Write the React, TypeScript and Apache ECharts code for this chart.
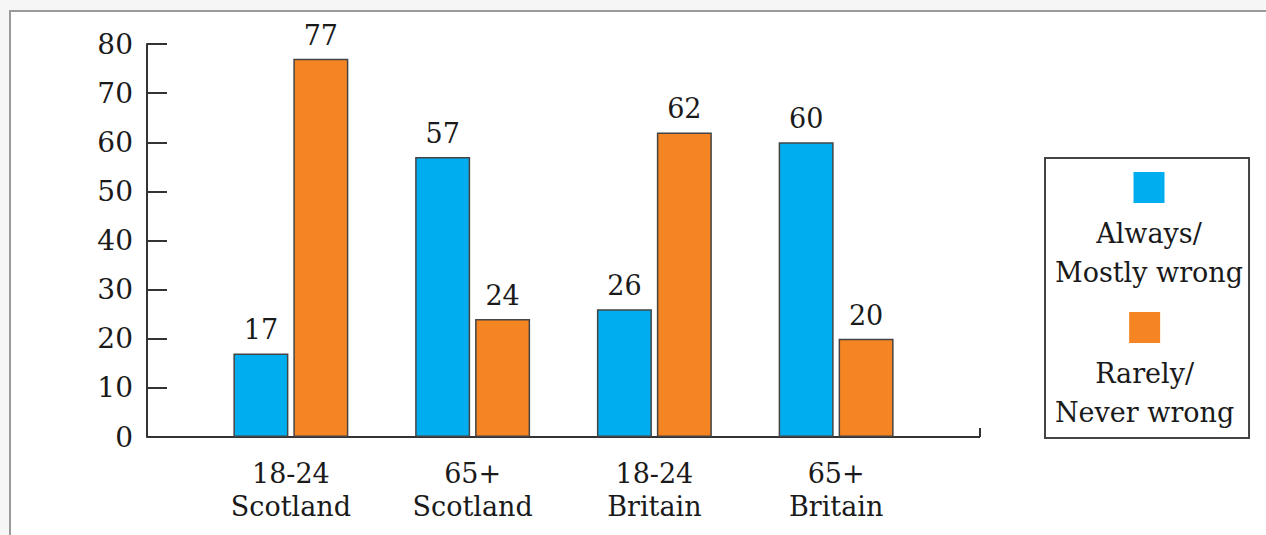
import React, { useEffect, useRef } from "react";
import * as echarts from "echarts";

const categories = ["18-24\nScotland", "65+\nScotland", "18-24\nBritain", "65+\nBritain"];
const seriesNames = ["Always/\nMostly wrong", "Rarely/\nNever wrong"];
const alwaysWrong = [17, 57, 26, 60];
const rarelyWrong = [77, 24, 62, 20];
const yTicks = [0, 10, 20, 30, 40, 50, 60, 70, 80];

const FONT = "DejaVu Serif";
const BLUE = "#00AEEF";
const ORANGE = "#F58522";
const INK = "#1a1a1a";
const AXIS = "#333333";

export default function App() {
  const ref = useRef<HTMLDivElement>(null);
  useEffect(() => {
    if (!ref.current) return;
    const chart = echarts.init(ref.current, null, { renderer: "svg" });
    const colors = [BLUE, ORANGE];
    const gridLeft = 200;
    const gridRight = 339;
    const gridTop = 44;
    const gridBottom = 98;
    const W = 1266;
    const H = 535;
    const axisY = H - gridBottom;
    const axisX0 = 147;
    const axisX1 = 980;
    chart.setOption({
      animation: false,
      backgroundColor: "#f6f6f6",
      textStyle: { fontFamily: FONT },
      graphic: [
        { type: "rect", z: -1, shape: { x: 10, y: 11, width: W, height: H }, style: { fill: "#ffffff" } },
        { type: "line", shape: { x1: 9, y1: 11, x2: W, y2: 11 }, style: { stroke: "#9a9a9a", lineWidth: 2 } },
        { type: "line", shape: { x1: 10, y1: 10, x2: 10, y2: H }, style: { stroke: "#9a9a9a", lineWidth: 2 } },
        { type: "line", shape: { x1: axisX0, y1: axisY, x2: axisX1, y2: axisY }, style: { stroke: AXIS, lineWidth: 2 } },
        { type: "line", shape: { x1: axisX1, y1: axisY, x2: axisX1, y2: axisY - 9 }, style: { stroke: AXIS, lineWidth: 2 } },
      ],
      grid: { left: gridLeft, right: gridRight, top: gridTop, bottom: gridBottom, containLabel: false },
      legend: {
        orient: "vertical",
        left: 1045,
        top: 158,
        icon: "none",
        itemWidth: 0,
        itemHeight: 120,
        itemGap: 26,
        padding: [14, 6, 12, 5],
        borderColor: "#444444",
        borderWidth: 2,
        selectedMode: false,
        data: seriesNames,
        formatter: (name: string) => {
          const idx = seriesNames.indexOf(name);
          const lines = name.split("\n").map((l) => `{t|${l}}`).join("\n");
          return `{b${idx}|}\n{g|}\n${lines}`;
        },
        textStyle: {
          fontFamily: FONT,
          fontSize: 27,
          color: INK,
          rich: {
            b0: { backgroundColor: BLUE, width: 31, height: 31, lineHeight: 31, align: "center" },
            b1: { backgroundColor: ORANGE, width: 31, height: 31, lineHeight: 31, align: "center" },
            g: { height: 11, lineHeight: 11 },
            t: { fontFamily: FONT, fontSize: 27, lineHeight: 39, color: INK, align: "center" },
          },
        },
      },
      xAxis: {
        type: "category",
        data: categories,
        axisLine: { show: false },
        axisTick: { show: false },
        axisLabel: {
          fontFamily: FONT,
          fontSize: 27,
          color: INK,
          lineHeight: 33,
          margin: 20,
        },
      },
      yAxis: {
        type: "value",
        min: 0,
        max: 80,
        interval: 10,
        offset: gridLeft - axisX0,
        axisLine: { show: true, lineStyle: { color: AXIS, width: 2 } },
        axisTick: { show: true, inside: true, length: 20, lineStyle: { color: AXIS, width: 2 } },
        splitLine: { show: false },
        axisLabel: {
          fontFamily: FONT,
          fontSize: 28,
          color: INK,
          margin: 14,
          formatter: (v: number) => (yTicks.includes(v) ? String(v) : ""),
        },
      },
      series: [alwaysWrong, rarelyWrong].map((d, i) => ({
        name: seriesNames[i],
        type: "bar",
        data: d,
        barWidth: 55,
        barGap: "9%",
        itemStyle: { color: colors[i], borderColor: "#444444", borderWidth: 1.5 },
        label: {
          show: true,
          position: "top",
          distance: 10,
          fontFamily: FONT,
          fontSize: 27,
          color: INK,
        },
      })),
    });
    return () => chart.dispose();
  }, []);
  return (
    <div
      ref={ref}
      style={{ position: "absolute", left: 0, top: 0, width: 1266, height: 535 }}
    />
  );
}
